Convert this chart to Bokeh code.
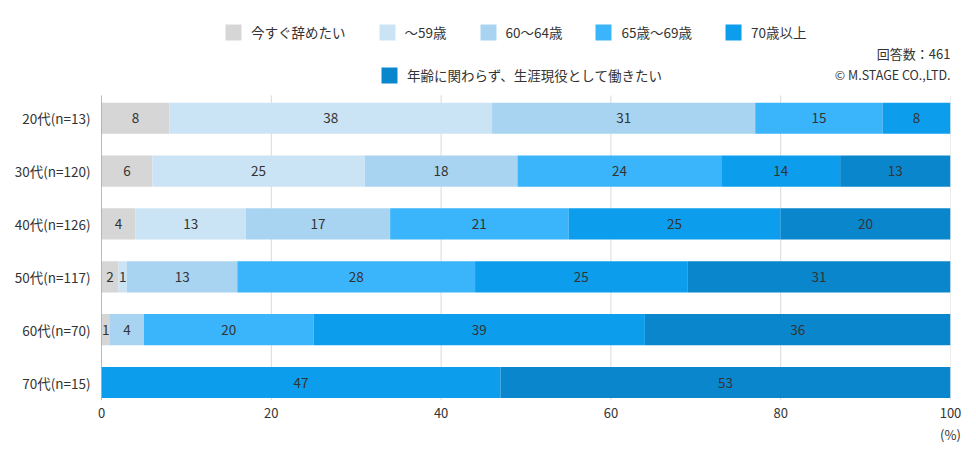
from bokeh.plotting import figure
from bokeh.models import Legend, LegendItem, ColumnDataSource, FixedTicker, Label, Range1d
from bokeh.embed import file_html
from bokeh.resources import INLINE

rows = ["20代(n=13)", "30代(n=120)", "40代(n=126)", "50代(n=117)", "60代(n=70)", "70代(n=15)"]
series = ["今すぐ辞めたい", "～59歳", "60～64歳", "65歳～69歳", "70歳以上",
          "年齢に関わらず、生涯現役として働きたい"]
quit_now = [8, 6, 4, 2, 1, 0]
to59 = [38, 25, 13, 1, 0, 0]
to64 = [31, 18, 17, 13, 4, 0]
to69 = [15, 24, 21, 28, 20, 0]
over70 = [8, 14, 25, 25, 39, 47]
lifelong = [0, 13, 20, 31, 36, 53]
x_ticks = [0, 20, 40, 60, 80, 100]
colors = ["#d6d6d6", "#cbe4f5", "#a8d4f2", "#3ab4fa", "#0d9ded", "#0a86cc"]

FONT = "Noto Sans CJK JP"
TXT = "#333333"

values = [quit_now, to59, to64, to69, over70, lifelong]
ypos = list(range(len(rows)))
keys = ["s%d" % i for i in range(len(series))]
data = {"y": ypos}
for k, v in zip(keys, values):
    data[k] = v
src = ColumnDataSource(data)

Y_BOTTOM = 5.34
Y_PLOT_TOP = -0.43
Y_CANVAS_TOP = -2.227

p = figure(width=976, height=459, output_backend="svg", toolbar_location=None,
           x_range=Range1d(0, 100), y_range=Range1d(Y_BOTTOM, Y_CANVAS_TOP),
           min_border_left=101, min_border_right=26, min_border_top=0, min_border_bottom=59)
p.outline_line_color = None

# grid lines and left axis line drawn only over the bar area
p.segment(x0=x_ticks[1:], x1=x_ticks[1:], y0=[Y_PLOT_TOP] * 5, y1=[Y_BOTTOM] * 5,
          line_color="#d9d9d9", line_width=1)

renderers = p.hbar_stack(keys, y="y", height=0.59, color=colors, source=src, line_width=0)

p.segment(x0=[0], x1=[0], y0=[Y_PLOT_TOP], y1=[Y_BOTTOM], line_color="#777777", line_width=1)

# segment labels
lx, ly, lt = [], [], []
for i in range(len(rows)):
    cum = 0
    for v in values:
        val = v[i]
        if val > 0:
            lx.append(cum + val / 2)
            ly.append(i)
            lt.append(str(val))
        cum += val
p.text(x=lx, y=ly, text=lt, text_align="center", text_baseline="middle",
       text_font_size="13.5px", text_color=TXT, text_font={"value": FONT})

# axes
p.xaxis.ticker = FixedTicker(ticks=x_ticks)
p.xaxis.major_label_overrides = {100: "100\n(%)"}
p.xaxis.axis_line_color = None
p.xaxis.major_tick_line_color = None
p.xaxis.minor_tick_line_color = None
p.xaxis.major_label_text_font = FONT
p.xaxis.major_label_text_font_size = "13px"
p.xaxis.major_label_text_color = TXT
p.xaxis.major_label_standoff = -4

p.yaxis.ticker = FixedTicker(ticks=ypos)
p.yaxis.major_label_overrides = {i: r for i, r in enumerate(rows)}
p.yaxis.axis_line_color = None
p.yaxis.major_tick_line_color = None
p.yaxis.minor_tick_line_color = None
p.yaxis.major_label_text_font = FONT
p.yaxis.major_label_text_font_size = "13.5px"
p.yaxis.major_label_text_color = TXT
p.yaxis.major_label_standoff = 5

p.xgrid.grid_line_color = None
p.ygrid.grid_line_color = None

# legends
def make_legend(idx, loc):
    items = [LegendItem(label=series[i], renderers=[renderers[i]]) for i in idx]
    lg = Legend(items=items, orientation="horizontal", location=loc,
                glyph_width=20, glyph_height=20, label_standoff=8, spacing=31,
                padding=0, margin=0, border_line_color=None, background_fill_alpha=0,
                label_text_font=FONT, label_text_font_size="13.5px", label_text_color=TXT,
                label_height=20)
    p.add_layout(lg)

make_legend([0, 1, 2, 3, 4], (122, 358))
make_legend([5], (278, 315))

p.add_layout(Label(x=100, y=-1.23, text="回答数：461", text_align="right", text_baseline="middle",
                   text_font=FONT, text_font_size="13px", text_color=TXT))
p.add_layout(Label(x=100, y=-0.83, text="© M.STAGE CO.,LTD.", text_align="right", text_baseline="middle",
                   text_font=FONT, text_font_size="12.5px", text_color=TXT))

open("out.html", "w").write(file_html(p, INLINE))
